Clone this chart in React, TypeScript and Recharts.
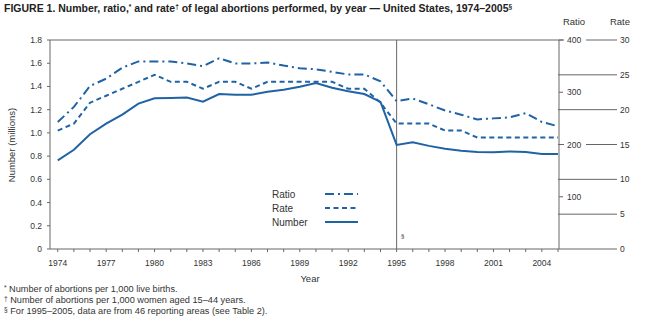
import React from 'react';
import { LineChart, Line, XAxis, YAxis, ReferenceLine } from 'recharts';

const years = [
  1974, 1975, 1976, 1977, 1978, 1979, 1980, 1981, 1982, 1983, 1984, 1985, 1986, 1987, 1988, 1989,
  1990, 1991, 1992, 1993, 1994, 1995, 1996, 1997, 1998, 1999, 2000, 2001, 2002, 2003, 2004, 2005,
];
const numberMillions = [
  0.763, 0.855, 0.988, 1.079, 1.158, 1.252, 1.298, 1.301, 1.304, 1.269, 1.334, 1.329, 1.328, 1.354,
  1.371, 1.397, 1.429, 1.389, 1.359, 1.335, 1.267, 0.896, 0.92, 0.888, 0.864, 0.847, 0.836, 0.833,
  0.84, 0.835, 0.818, 0.818,
];
const ratioValues = [
  243, 272, 312, 326, 347, 359, 359, 359, 355, 350, 365, 355, 355, 357, 351, 346, 344, 339, 334, 334,
  321, 283, 288, 277, 265, 257, 248, 250, 252, 260, 243, 235,
];
const rateValues = [
  17, 18, 21, 22, 23, 24, 25, 24, 24, 23, 24, 24, 23, 24, 24, 24, 24, 24, 23, 23, 21, 18, 18, 18, 17,
  17, 16, 16, 16, 16, 16, 16,
];
const numberTicks = [0, 0.2, 0.4, 0.6, 0.8, 1.0, 1.2, 1.4, 1.6, 1.8];
const ratioTicks = [100, 200, 300, 400];
const rateTicks = [0, 5, 10, 15, 20, 25, 30];

const BLUE = '#1f63a5';
const AXIS = '#666';
const FONT = '"Liberation Sans", Arial, Helvetica, sans-serif';

const series = [
  { key: 'ratio', name: 'Ratio', dash: '9 4 2 4' },
  { key: 'rate', name: 'Rate', dash: '5 3.5' },
  { key: 'number', name: 'Number', dash: undefined as string | undefined },
];

const data = years.map((year, i) => ({
  year,
  number: numberMillions[i],
  ratio: ratioValues[i],
  rate: rateValues[i],
}));

// ratio labels sit on top of the long rate ticks, so blank them out behind the text
const RatioTick = (props: any) => {
  const { x, y, payload } = props;
  return (
    <g>
      <rect x={x - 3} y={y - 5} width={22} height={10} fill="#fff" />
      <text x={x} y={y} dy={3} fontSize={8.5} fill="#333" fontFamily={FONT} textAnchor="start">
        {payload.value}
      </text>
    </g>
  );
};

export default function App() {
  return (
    <div style={{ position: 'relative', width: 655, height: 327, background: '#fff' }}>
      <style>{`body{margin:0}`}</style>
      <LineChart
        width={655}
        height={327}
        data={data}
        margin={{ top: 40, right: 0, bottom: 48, left: 0 }}
        style={{ fontFamily: FONT }}
      >
        <XAxis
          dataKey="year"
          type="number"
          domain={[1973.52, 2005]}
          ticks={years}
          interval={0}
          height={30}
          tickSize={3}
          tickMargin={8}
          stroke={AXIS}
          tick={{ fontSize: 8.5, fill: '#333' }}
          tickFormatter={(v: number) => ((v - 1974) % 3 === 0 && v < 2005 ? String(v) : '')}
        />
        <YAxis
          yAxisId="num"
          domain={[0, 1.8]}
          ticks={numberTicks}
          interval={0}
          width={50}
          tickSize={3}
          tickMargin={5}
          stroke={AXIS}
          tick={{ fontSize: 8.5, fill: '#333' }}
          tickFormatter={(v: number) => (v === 0 ? '0' : v.toFixed(1))}
        />
        <YAxis
          yAxisId="rate"
          orientation="right"
          domain={[0, 30]}
          ticks={rateTicks}
          interval={0}
          width={1}
          axisLine={false}
          tickSize={59}
          tickMargin={3}
          stroke={AXIS}
          tick={{ fontSize: 8.5, fill: '#333', textAnchor: 'start' }}
        />
        <YAxis
          yAxisId="ratio"
          orientation="right"
          domain={[0, 400]}
          ticks={ratioTicks}
          interval={0}
          width={96}
          tickSize={4}
          tickMargin={4}
          stroke={AXIS}
          tick={<RatioTick />}
        />
        <ReferenceLine yAxisId="num" y={1.8} stroke={AXIS} strokeWidth={1} />
        <ReferenceLine yAxisId="num" x={1995} stroke={AXIS} strokeWidth={1} />
        <Line
          yAxisId="ratio"
          dataKey="ratio"
          type="linear"
          stroke={BLUE}
          strokeWidth={2}
          strokeDasharray={series[0].dash}
          dot={false}
          isAnimationActive={false}
        />
        <Line
          yAxisId="rate"
          dataKey="rate"
          type="linear"
          stroke={BLUE}
          strokeWidth={2}
          strokeDasharray={series[1].dash}
          dot={false}
          isAnimationActive={false}
        />
        <Line
          yAxisId="num"
          dataKey="number"
          type="linear"
          stroke={BLUE}
          strokeWidth={2}
          dot={false}
          isAnimationActive={false}
        />
      </LineChart>

      <svg
        width={655}
        height={327}
        style={{ position: 'absolute', left: 0, top: 0, pointerEvents: 'none', fontFamily: FONT }}
      >
        <text x={4} y={12} fontSize={10.5} fontWeight="bold" fill="#222">
          FIGURE 1. Number, ratio,
          <tspan fontSize={6.5} dy={-3}>*</tspan>
          <tspan dy={3}> and rate</tspan>
          <tspan fontSize={6.5} dy={-3}>†</tspan>
          <tspan dy={3}> of legal abortions performed, by  year — United States, 1974–2005</tspan>
          <tspan fontSize={6.5} dy={-3}>§</tspan>
        </text>
        <text x={574} y={25} fontSize={9.5} fill="#333" textAnchor="middle">Ratio</text>
        <text x={620} y={25} fontSize={9.5} fill="#333" textAnchor="middle">Rate</text>
        <text
          x={15}
          y={145}
          fontSize={9.5}
          fill="#333"
          textAnchor="middle"
          transform="rotate(-90 15 145)"
        >
          Number (millions)
        </text>
        <text x={310} y={282} fontSize={9.5} fill="#333" textAnchor="middle">Year</text>
        <text x={401} y={238} fontSize={6} fill="#333">§</text>

        {series.map((s, i) => {
          const y = 194 + i * 14;
          return (
            <g key={s.key}>
              <text x={272} y={y + 3.5} fontSize={10} fill="#333">{s.name}</text>
              <line x1={325} x2={358} y1={y} y2={y} stroke={BLUE} strokeWidth={2} strokeDasharray={s.dash} />
            </g>
          );
        })}

        <text x={4} y={292} fontSize={9.2} fill="#333">
          <tspan fontSize={6.5} dy={-2}>*</tspan>
          <tspan dy={2}> Number of abortions per 1,000 live births.</tspan>
        </text>
        <text x={4} y={303} fontSize={9.2} fill="#333">
          <tspan fontSize={6.5} dy={-2}>†</tspan>
          <tspan dy={2}> Number of abortions per 1,000 women aged 15–44 years.</tspan>
        </text>
        <text x={4} y={314} fontSize={9.2} fill="#333">
          <tspan fontSize={6.5} dy={-2}>§</tspan>
          <tspan dy={2}> For 1995–2005, data are from 46 reporting areas (see Table 2).</tspan>
        </text>
      </svg>
    </div>
  );
}
